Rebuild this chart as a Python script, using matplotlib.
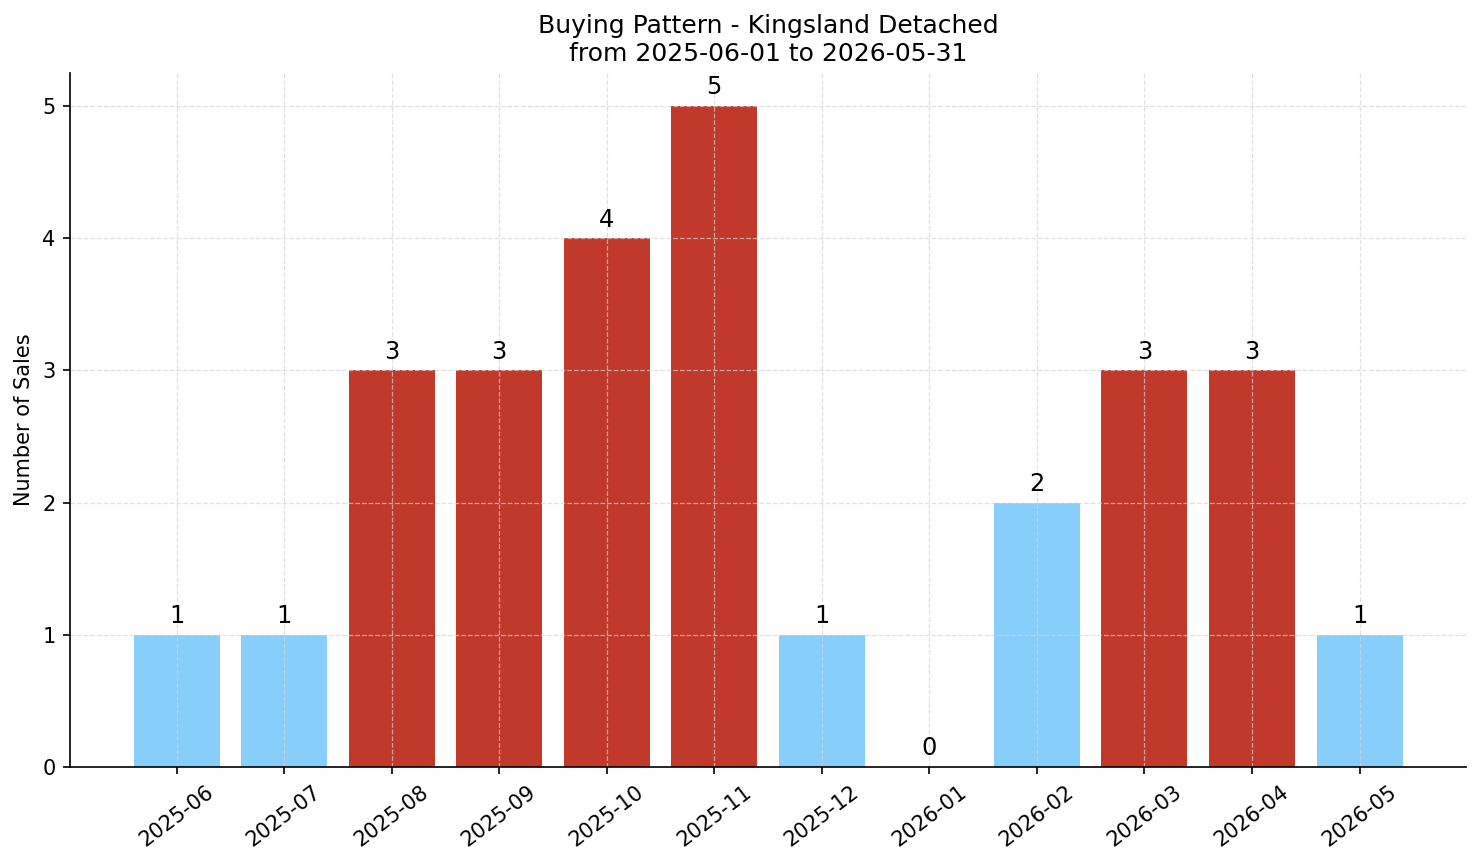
import matplotlib
matplotlib.use('Agg')
import matplotlib.pyplot as plt

# Monthly sales counts
months = ['2025-06', '2025-07', '2025-08', '2025-09', '2025-10', '2025-11',
          '2025-12', '2026-01', '2026-02', '2026-03', '2026-04', '2026-05']
sales = [1, 1, 3, 3, 4, 5, 1, 0, 2, 3, 3, 1]
high_threshold = 3

title = 'Buying Pattern - Kingsland Detached\nfrom 2025-06-01 to 2026-05-31'


def main():
    colors = ['#c0392b' if s >= high_threshold else '#87cefa' for s in sales]

    fig = plt.figure(figsize=(1481 / 150, 863 / 150), dpi=150)
    ax = fig.add_axes([0.0473, 0.1112, 0.9426, 0.8042])

    x = range(len(months))
    ax.bar(x, sales, color=colors, width=0.8)

    for i, s in enumerate(sales):
        ax.text(i, s + 0.05, str(s), ha='center', va='bottom', fontsize=11.5)

    ax.set_xticks(list(x))
    ax.set_xticklabels(months, rotation=37)
    ax.set_ylabel('Number of Sales')
    ax.set_title(title, fontsize=12)

    ax.grid(True, linestyle='--', color='lightgray', alpha=0.7, linewidth=0.6)
    ax.spines['top'].set_visible(False)
    ax.spines['right'].set_visible(False)

    fig.savefig('out.png', dpi=150)


if __name__ == '__main__':
    main()
